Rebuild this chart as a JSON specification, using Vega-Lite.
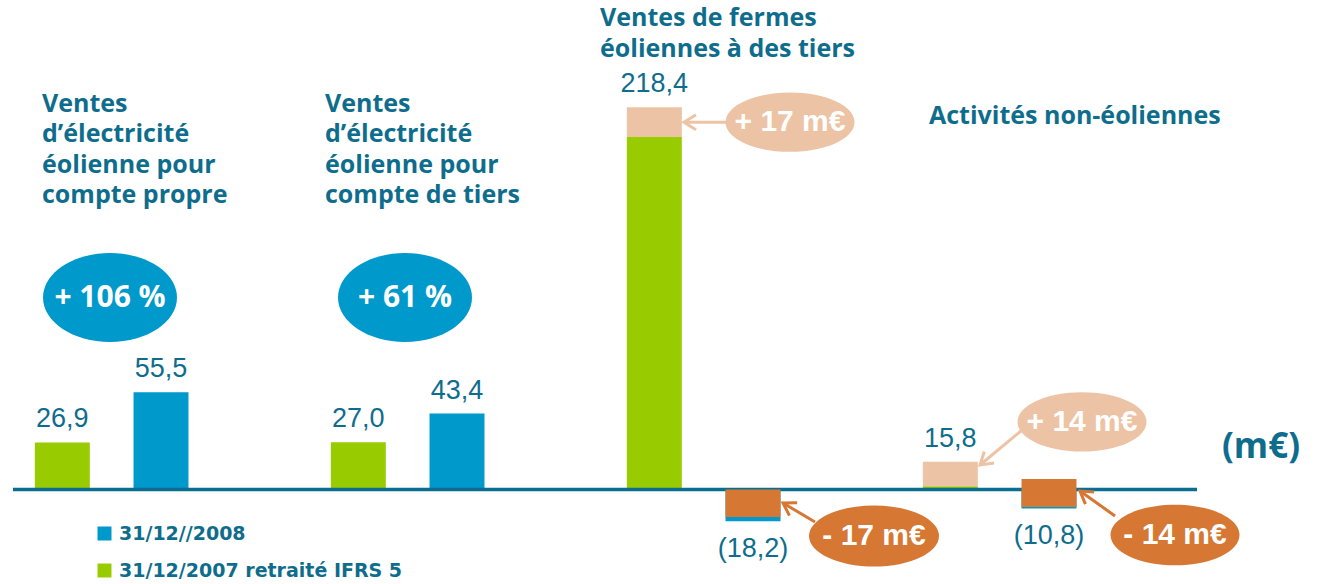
{
  "$schema": "https://vega.github.io/schema/vega-lite/v6.json",
  "width": 1184,
  "height": 584,
  "autosize": "none",
  "padding": {"left": 13, "top": 0, "right": 122, "bottom": 0},
  "background": "white",
  "config": {
    "view": {"stroke": null},
    "axis": {"disable": true},
    "locale": {"number": {"decimal": ",", "thousands": "\u00a0", "grouping": [3], "currency": ["", "\u00a0€"]}}
  },
  "datasets": {
    "barres": [
      {"g": "G1", "an": "2007", "serie": "31/12/2007 retraité IFRS 5", "v": 26.9},
      {"g": "G1", "an": "2008", "serie": "31/12//2008", "v": 55.5},
      {"g": "G2", "an": "2007", "serie": "31/12/2007 retraité IFRS 5", "v": 27.0},
      {"g": "G2", "an": "2008", "serie": "31/12//2008", "v": 43.4},
      {"g": "G3", "an": "2007", "serie": "31/12/2007 retraité IFRS 5", "v": 201.4},
      {"g": "G3", "an": "2007", "serie": "Retraitement +", "v": 17},
      {"g": "G3", "an": "2008", "serie": "31/12//2008", "v": -18.2},
      {"g": "G4", "an": "2007", "serie": "31/12/2007 retraité IFRS 5", "v": 1.8},
      {"g": "G4", "an": "2007", "serie": "Retraitement +", "v": 14},
      {"g": "G4", "an": "2008", "serie": "31/12//2008", "v": -10.8}
    ],
    "ajust": [
      {"g": "G3", "an": "2008", "serie": "Retraitement −", "de": 0, "a": -15.7},
      {"g": "G4", "an": "2008", "serie": "Retraitement −", "de": 6, "a": -10}
    ]
  },
  "layer": [
    {
      "data": {"name": "barres"},
      "mark": {"type": "bar"},
      "encoding": {
        "x": {"field": "g", "type": "nominal", "axis": null,
              "scale": {"type": "band", "domain": ["G1", "G2", "G3", "G4"], "paddingInner": 0, "paddingOuter": 0}},
        "xOffset": {"field": "an", "type": "nominal",
                    "scale": {"domain": ["2007", "2008", "_"], "paddingInner": 0.443, "paddingOuter": 0.2215}},
        "y": {"field": "v", "type": "quantitative", "stack": "zero", "axis": null,
              "scale": {"domain": [-54, 279.71], "nice": false, "zero": false}},
        "color": {"field": "serie", "type": "nominal",
                  "scale": {"domain": ["31/12//2008", "31/12/2007 retraité IFRS 5", "Retraitement +", "Retraitement −"],
                            "range": ["#0099cc", "#99cc00", "#edc3a5", "#d67834"]},
                  "legend": {"values": ["31/12//2008", "31/12/2007 retraité IFRS 5"], "title": null,
                             "orient": "none", "legendX": 82, "legendY": 524, "padding": 0,
                             "symbolType": "square", "symbolSize": 196, "symbolStrokeWidth": 0, "symbolOpacity": 1,
                             "labelFont": "DejaVu Sans", "labelFontWeight": "bold", "labelFontSize": 19,
                             "labelColor": "#0e6d8d", "labelLimit": 500, "rowPadding": 17, "labelOffset": 5}},
        "order": {"field": "serie", "sort": "ascending"}
      }
    },
    {
      "data": {"values": [{}]},
      "mark": {"type": "rule", "color": "#0a6e91", "strokeWidth": 3.5},
      "encoding": {"y": {"datum": 0}}
    },
    {
      "data": {"name": "ajust"},
      "mark": {"type": "bar"},
      "encoding": {
        "x": {"field": "g", "type": "nominal"},
        "xOffset": {"field": "an", "type": "nominal"},
        "y": {"field": "de", "type": "quantitative"},
        "y2": {"field": "a"},
        "color": {"field": "serie", "type": "nominal"}
      }
    },
    {
      "data": {"name": "barres"},
      "transform": [
        {"aggregate": [{"op": "sum", "field": "v", "as": "tot"}], "groupby": ["g", "an"]},
        {"filter": "datum.tot > 0"}
      ],
      "mark": {"type": "text", "font": "Liberation Sans", "fontSize": 27, "color": "#0e6d8d", "baseline": "alphabetic", "dy": -15},
      "encoding": {
        "x": {"field": "g", "type": "nominal"},
        "xOffset": {"field": "an", "type": "nominal"},
        "y": {"field": "tot", "type": "quantitative"},
        "text": {"field": "tot", "type": "quantitative", "format": "(.1f"}
      }
    },
    {
      "data": {"name": "barres"},
      "transform": [
        {"aggregate": [{"op": "sum", "field": "v", "as": "tot"}], "groupby": ["g", "an"]},
        {"filter": "datum.tot < 0"}
      ],
      "mark": {"type": "text", "font": "Liberation Sans", "fontSize": 27, "color": "#0e6d8d", "baseline": "alphabetic", "dy": 36},
      "encoding": {
        "x": {"field": "g", "type": "nominal"},
        "xOffset": {"field": "an", "type": "nominal"},
        "y": {"field": "tot", "type": "quantitative"},
        "text": {"field": "tot", "type": "quantitative", "format": "(.1f"}
      }
    },
    {
      "data": {"values": [{}]},
      "layer": [
        {"mark": {"type": "rule", "color": "#edc3a5", "strokeWidth": 3, "xOffset": -27, "x2Offset": -69},
         "encoding": {"x": {"datum": "G3"}, "x2": {"datum": "G3"}, "y": {"datum": 209.9}, "y2": {"datum": 209.9}}},
        {"mark": {"type": "point", "shape": "M2,-1.25L0,0L2,1.25", "size": 144, "filled": false, "stroke": "#edc3a5", "strokeWidth": 3, "opacity": 1, "angle": 0, "xOffset": -69},
         "encoding": {"x": {"datum": "G3"}, "y": {"datum": 209.9}}},
        {"mark": {"type": "rule", "color": "#edc3a5", "strokeWidth": 3, "xOffset": -27, "x2Offset": -69},
         "encoding": {"x": {"datum": "G4"}, "x2": {"datum": "G4"}, "y": {"datum": 34.0}, "y2": {"datum": 14.0}}},
        {"mark": {"type": "point", "shape": "M2,-1.25L0,0L2,1.25", "size": 144, "filled": false, "stroke": "#edc3a5", "strokeWidth": 3, "opacity": 1, "angle": 320, "xOffset": -69},
         "encoding": {"x": {"datum": "G4"}, "y": {"datum": 14.0}}},
        {"mark": {"type": "rule", "color": "#d67834", "strokeWidth": 3, "xOffset": 62, "x2Offset": 30},
         "encoding": {"x": {"datum": "G3"}, "x2": {"datum": "G3"}, "y": {"datum": -18.6}, "y2": {"datum": -7.7}}},
        {"mark": {"type": "point", "shape": "M2,-1.25L0,0L2,1.25", "size": 144, "filled": false, "stroke": "#d67834", "strokeWidth": 3, "opacity": 1, "angle": 31, "xOffset": 30},
         "encoding": {"x": {"datum": "G3"}, "y": {"datum": -7.7}}},
        {"mark": {"type": "rule", "color": "#d67834", "strokeWidth": 3, "xOffset": 66, "x2Offset": 31},
         "encoding": {"x": {"datum": "G4"}, "x2": {"datum": "G4"}, "y": {"datum": -15.1}, "y2": {"datum": -0.9}}},
        {"mark": {"type": "point", "shape": "M2,-1.25L0,0L2,1.25", "size": 144, "filled": false, "stroke": "#d67834", "strokeWidth": 3, "opacity": 1, "angle": 35.5, "xOffset": 31},
         "encoding": {"x": {"datum": "G4"}, "y": {"datum": -0.9}}}
      ]
    },
    {
      "data": {"values": [{}]},
      "layer": [
        {"mark": {"type": "point", "shape": "M-1,0A1,0.664,0,1,1,1,0A1,0.664,0,1,1,-1,0Z", "size": 17956, "filled": true, "fill": "#0099cc", "opacity": 1, "strokeWidth": 0, "xOffset": -51},
         "encoding": {"x": {"datum": "G1"}, "y": {"datum": 109.7}}},
        {"mark": {"type": "text", "text": "+ 106 %", "font": "Open Sans", "fontWeight": "bold", "fontSize": 30, "color": "white", "baseline": "middle", "align": "center", "xOffset": -51},
         "encoding": {"x": {"datum": "G1"}, "y": {"datum": 109.7}}},
        {"mark": {"type": "point", "shape": "M-1,0A1,0.664,0,1,1,1,0A1,0.664,0,1,1,-1,0Z", "size": 17956, "filled": true, "fill": "#0099cc", "opacity": 1, "strokeWidth": 0, "xOffset": -52},
         "encoding": {"x": {"datum": "G2"}, "y": {"datum": 109.7}}},
        {"mark": {"type": "text", "text": "+ 61 %", "font": "Open Sans", "fontWeight": "bold", "fontSize": 30, "color": "white", "baseline": "middle", "align": "center", "xOffset": -52},
         "encoding": {"x": {"datum": "G2"}, "y": {"datum": 109.7}}},
        {"mark": {"type": "point", "shape": "M-1,0A1,0.46,0,1,1,1,0A1,0.46,0,1,1,-1,0Z", "size": 16641, "filled": true, "fill": "#edc3a5", "opacity": 1, "strokeWidth": 0, "xOffset": 37},
         "encoding": {"x": {"datum": "G3"}, "y": {"datum": 209.9}}},
        {"mark": {"type": "text", "text": "+ 17 m€", "font": "Liberation Sans", "fontWeight": "bold", "fontSize": 30, "color": "white", "baseline": "middle", "align": "center", "xOffset": 37},
         "encoding": {"x": {"datum": "G3"}, "y": {"datum": 209.9}}},
        {"mark": {"type": "point", "shape": "M-1,0A1,0.46,0,1,1,1,0A1,0.46,0,1,1,-1,0Z", "size": 16641, "filled": true, "fill": "#edc3a5", "opacity": 1, "strokeWidth": 0, "xOffset": 33},
         "encoding": {"x": {"datum": "G4"}, "y": {"datum": 38.6}}},
        {"mark": {"type": "text", "text": "+ 14 m€", "font": "Liberation Sans", "fontWeight": "bold", "fontSize": 30, "color": "white", "baseline": "middle", "align": "center", "xOffset": 33},
         "encoding": {"x": {"datum": "G4"}, "y": {"datum": 38.6}}},
        {"mark": {"type": "point", "shape": "M-1,0A1,0.47,0,1,1,1,0A1,0.47,0,1,1,-1,0Z", "size": 16900, "filled": true, "fill": "#d67834", "opacity": 1, "strokeWidth": 0, "xOffset": 121},
         "encoding": {"x": {"datum": "G3"}, "y": {"datum": -26.6}}},
        {"mark": {"type": "text", "text": "- 17 m€", "font": "Liberation Sans", "fontWeight": "bold", "fontSize": 30, "color": "white", "baseline": "middle", "align": "center", "xOffset": 121},
         "encoding": {"x": {"datum": "G3"}, "y": {"datum": -26.6}}},
        {"mark": {"type": "point", "shape": "M-1,0A1,0.47,0,1,1,1,0A1,0.47,0,1,1,-1,0Z", "size": 16641, "filled": true, "fill": "#d67834", "opacity": 1, "strokeWidth": 0, "xOffset": 126},
         "encoding": {"x": {"datum": "G4"}, "y": {"datum": -26.0}}},
        {"mark": {"type": "text", "text": "- 14 m€", "font": "Liberation Sans", "fontWeight": "bold", "fontSize": 30, "color": "white", "baseline": "middle", "align": "center", "xOffset": 126},
         "encoding": {"x": {"datum": "G4"}, "y": {"datum": -26.0}}}
      ]
    },
    {
      "data": {"values": [{}]},
      "layer": [
        {"mark": {"type": "text", "text": ["Ventes", "d’électricité", "éolienne pour", "compte propre"], "font": "Open Sans", "fontWeight": "bold", "fontSize": 25, "lineHeight": 30.5, "color": "#0e6d8d", "align": "left", "baseline": "top", "xOffset": -119},
         "encoding": {"x": {"datum": "G1"}, "y": {"datum": 227.4}}},
        {"mark": {"type": "text", "text": ["Ventes", "d’électricité", "éolienne pour", "compte de tiers"], "font": "Open Sans", "fontWeight": "bold", "fontSize": 25, "lineHeight": 30.5, "color": "#0e6d8d", "align": "left", "baseline": "top", "xOffset": -132},
         "encoding": {"x": {"datum": "G2"}, "y": {"datum": 227.4}}},
        {"mark": {"type": "text", "text": ["Ventes de fermes", "éoliennes à des tiers"], "font": "Open Sans", "fontWeight": "bold", "fontSize": 25, "lineHeight": 30.5, "color": "#0e6d8d", "align": "left", "baseline": "top", "xOffset": -153},
         "encoding": {"x": {"datum": "G3"}, "y": {"datum": 276.0}}},
        {"mark": {"type": "text", "text": "Activités non-éoliennes", "font": "Open Sans", "fontWeight": "bold", "fontSize": 25, "color": "#0e6d8d", "align": "left", "baseline": "top", "xOffset": -120},
         "encoding": {"x": {"datum": "G4"}, "y": {"datum": 220.0}}},
        {"mark": {"type": "text", "text": "(m€)", "font": "Open Sans", "fontWeight": "bold", "fontSize": 35, "color": "#0e6d8d", "align": "center", "baseline": "alphabetic", "xOffset": 212},
         "encoding": {"x": {"datum": "G4"}, "y": {"datum": 18.0}}}
      ]
    }
  ]
}
